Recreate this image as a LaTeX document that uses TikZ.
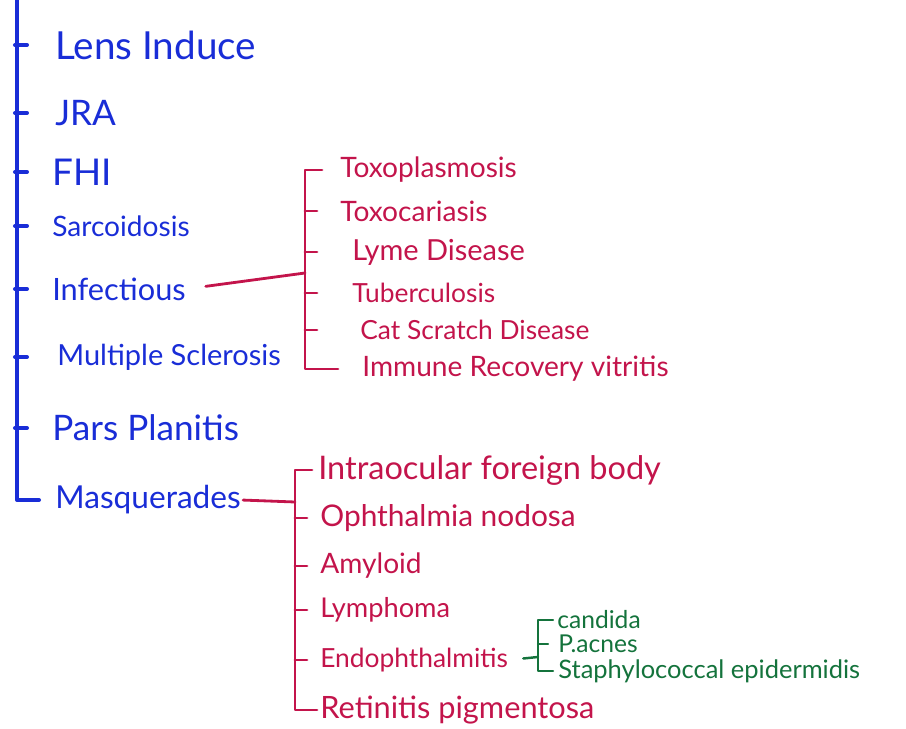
\documentclass[tikz,border=0pt]{standalone}
\usepackage{fontspec}
\setmainfont{Lato}
\definecolor{penblue}{RGB}{25,45,215}
\definecolor{penred}{RGB}{195,20,75}
\definecolor{pengreen}{RGB}{20,115,60}
\tikzset{
  blueitem/.style={anchor=west, inner sep=0pt, text=penblue, font=\fontsize{#1}{#1}\selectfont},
  blueitem/.default=19,
  reditem/.style={anchor=west, inner sep=0pt, text=penred, font=\fontsize{#1}{#1}\selectfont},
  reditem/.default=16,
  greenitem/.style={anchor=west, inner sep=0pt, text=pengreen, font=\fontsize{#1}{#1}\selectfont},
  greenitem/.default=14,
  blueline/.style={penblue, line width=2.3pt, line cap=round, line join=round},
  redline/.style={penred, line width=1.6pt, line cap=round, line join=round},
  greenline/.style={pengreen, line width=1.4pt, line cap=round, line join=round}
}
\begin{document}
\begin{tikzpicture}[x=0.02cm, y=-0.02cm]
% canvas in pixels of the 906x729 sheet, y downwards
\useasboundingbox (0,0) rectangle (906,729);

% --- Main list (blue) ---
\node[blueitem=22]   (lens) at (55,45)  {Lens Induce};
\node[blueitem=20]   (jra)  at (55,113) {JRA};
\node[blueitem=21]   (fhi)  at (52,172) {FHI};
\node[blueitem=16]   (sarc) at (52,226) {Sarcoidosis};
\node[blueitem=17.5] (inf)  at (52,289) {Infectious};
\node[blueitem=16.5] (ms)   at (57,357) {Multiple Sclerosis};
\node[blueitem=20]   (pars) at (52,428) {Pars Planitis};
\node[blueitem=18]   (mas)  at (55,500) {Masquerades};

\coordinate (trunk) at (17,0);
\draw[blueline] (trunk) -- (trunk |- mas.west) -- ++(22,0);
\foreach \n in {lens,jra,fhi,sarc,inf,ms,pars}
  \draw[blueline] (trunk |- \n.west) ++(-2,0) -- ++(12,0);

% --- Infectious causes (red) ---
\node[reditem]    (toxo)  at (340,170) {Toxoplasmosis};
\node[reditem]    (toxc)  at (340,211) {Toxocariasis};
\node[reditem=16.5] (lyme) at (352,252) {Lyme Disease};
\node[reditem=15] (tb)    at (352,293) {Tuberculosis};
\node[reditem=15] (cat)   at (360,330) {Cat Scratch Disease};
\node[reditem]    (irv)   at (362,369) {Immune Recovery vitritis};

\coordinate (infbus) at (305,0);
\coordinate (infhub) at (305,273);
\draw[redline] (infbus |- toxo.west) ++(17,0) -- (infbus |- toxo.west)
  -- (infbus |- irv.west) -- ++(33,0);
\foreach \n in {toxc,lyme,tb,cat}
  \draw[redline] (infbus |- \n.west) -- ++(12,0);
\draw[redline, shorten <=0.4cm] (inf.east) -- (infhub);

% --- Masquerades (red) ---
\node[reditem=18.5] (iofb)  at (318,470) {Intraocular foreign body};
\node[reditem=17]   (ophth) at (320,518) {Ophthalmia nodosa};
\node[reditem]      (amy)   at (320,566) {Amyloid};
\node[reditem=15.5] (lymph) at (320,610) {Lymphoma};
\node[reditem=15]   (endo)  at (320,660) {Endophthalmitis};
\node[reditem=17.5] (rp)    at (320,710) {Retinitis pigmentosa};

\coordinate (masbus) at (295,0);
\coordinate (mashub) at (295,502);
\draw[redline] (masbus |- iofb.west) ++(17,0) -- (masbus |- iofb.west)
  -- (masbus |- rp.west) -- ++(22,0);
\foreach \n in {ophth,amy,lymph,endo}
  \draw[redline] (masbus |- \n.west) -- ++(12,0);
\draw[redline, shorten <=0.04cm] (mas.east) -- (mashub);

% --- Endophthalmitis organisms (green) ---
\node[greenitem]      (cand)  at (557,620) {candida};
\node[greenitem]      (pacn)  at (558,644) {P.acnes};
\node[greenitem=14.5] (staph) at (558,671) {Staphylococcal epidermidis};

\coordinate (endbus) at (538,0);
\coordinate (endhub) at (538,657);
\draw[greenline] (endbus |- cand.west) ++(15,0) -- (endbus |- cand.west)
  -- (endbus |- staph.west) -- ++(15,0);
\draw[greenline] (endbus |- pacn.west) -- ++(10,0);
\draw[greenline, shorten <=0.3cm] (endo.east) -- (endhub);
\end{tikzpicture}
\end{document}
